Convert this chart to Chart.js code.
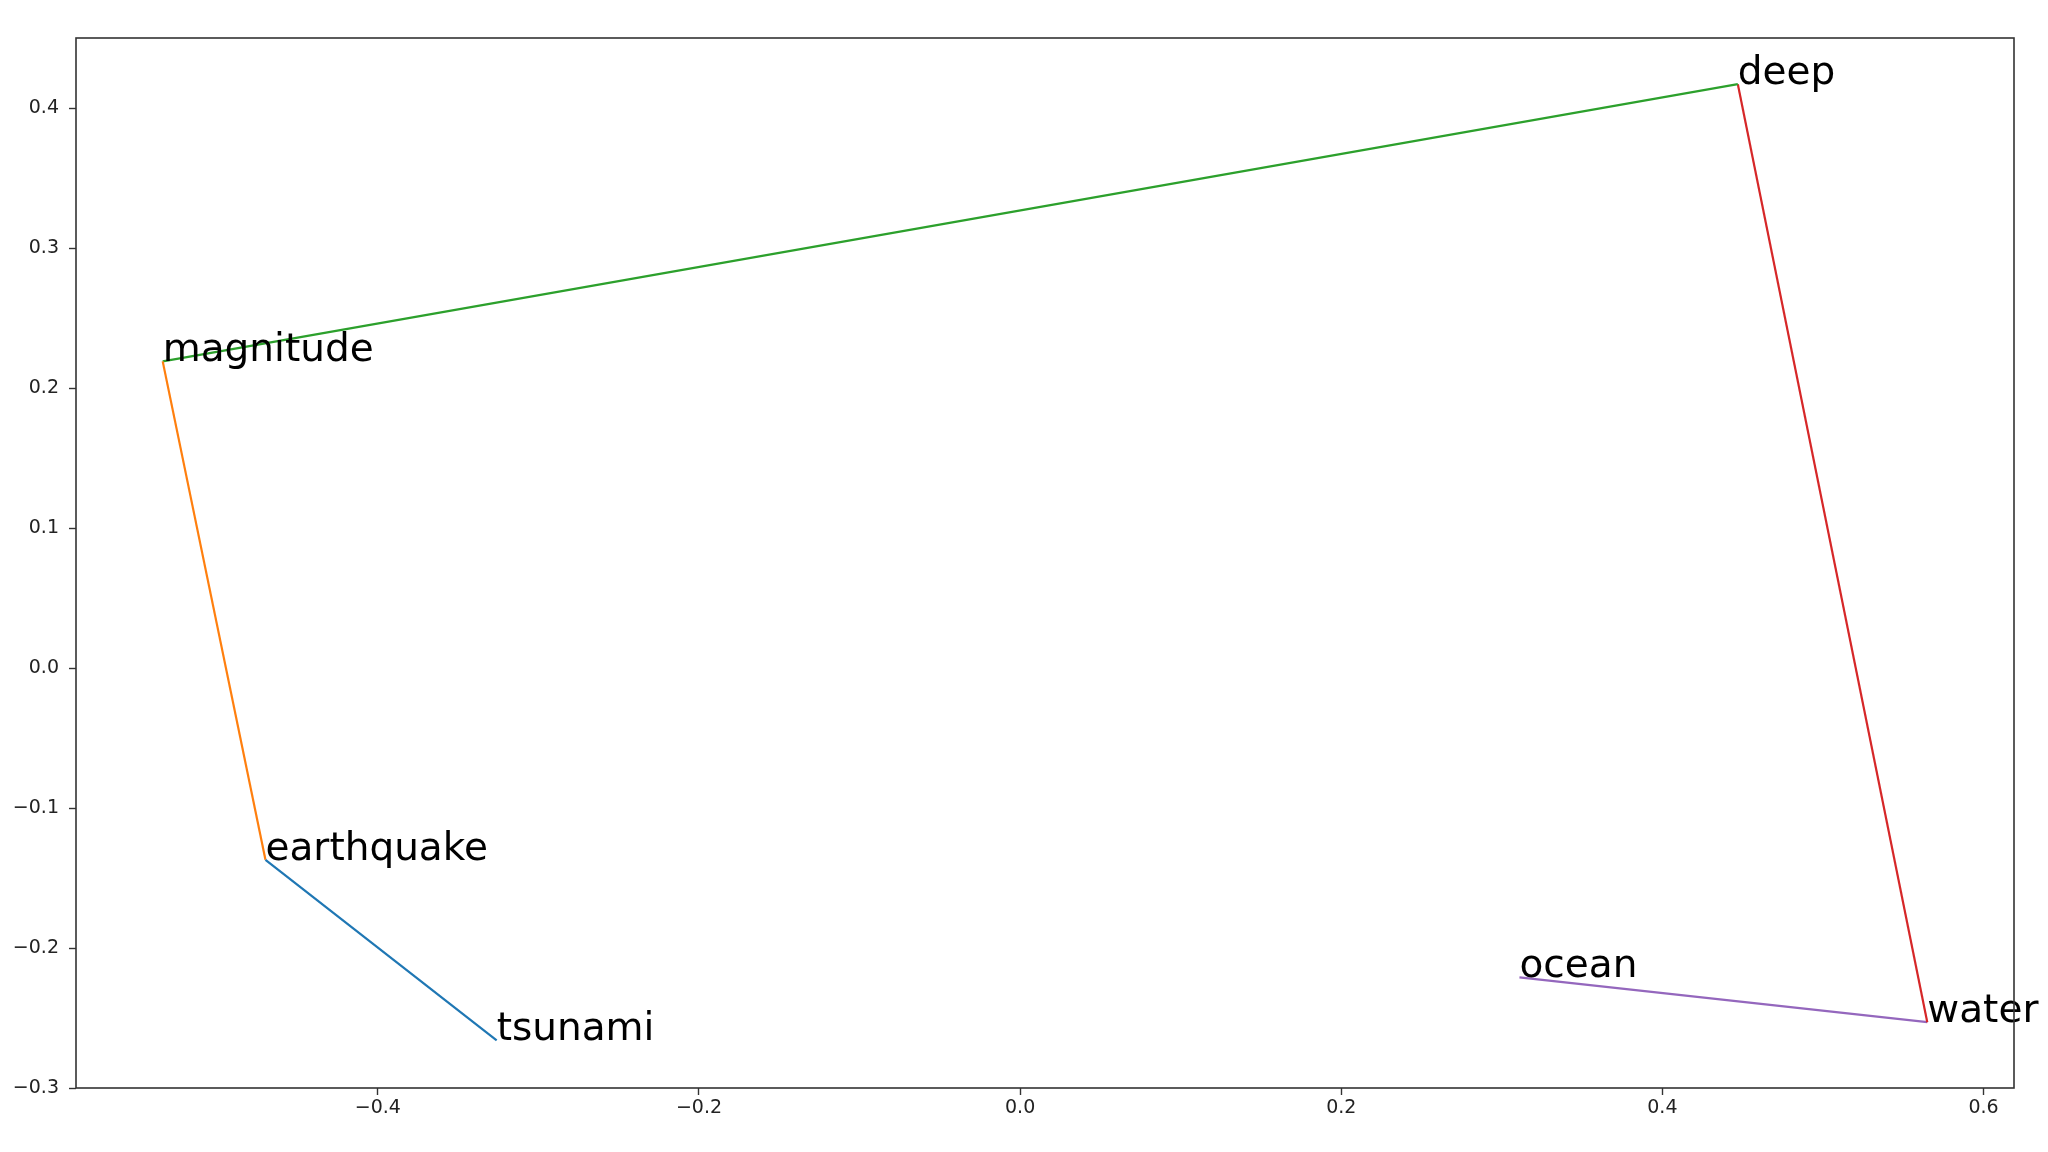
<!DOCTYPE html>
<html>
<head>
<meta charset="utf-8">
<script src="https://cdn.jsdelivr.net/npm/chart.js@4.4.1/dist/chart.umd.min.js"></script>
<style>
    html, body { margin: 0; padding: 0; background: #fff; }
    #wrap { width: 2048px; height: 1152px; }
</style>
</head>
<body>
<div id="wrap"><canvas id="chart" width="2048" height="1152"></canvas></div>
<script>
/* Word embedding path (2D projection) */

const words = ['tsunami', 'earthquake', 'magnitude', 'deep', 'water', 'ocean'];
const xs = [-0.326, -0.470, -0.534, 0.447, 0.565, 0.311];
const ys = [-0.266, -0.137, 0.219, 0.417, -0.253, -0.221];
const segColors = ['#1f77b4', '#ff7f0e', '#2ca02c', '#d62728', '#9467bd'];
const xTicks = [-0.4, -0.2, 0.0, 0.2, 0.4, 0.6];
const yTicks = [-0.3, -0.2, -0.1, 0.0, 0.1, 0.2, 0.3, 0.4];

const axisColor = '#333';
const tickFont = { family: 'DejaVu Sans', size: 19 };

// one line per consecutive pair of words
const datasets = segColors.map((color, i) => ({
    data: [
        { x: xs[i], y: ys[i] },
        { x: xs[i + 1], y: ys[i + 1] }
    ],
    borderColor: color,
    borderWidth: 2.2,
    pointRadius: 0,
    showLine: true,
    fill: false
}));

const fmt = v => v.toFixed(1).replace('-', '\u2212');

// matplotlib style box around the axes
const framePlugin = {
    id: 'frame',
    afterDraw(chart) {
        const { ctx, chartArea: a } = chart;
        ctx.save();
        ctx.strokeStyle = axisColor;
        ctx.lineWidth = 1.6;
        ctx.strokeRect(a.left, a.top, a.right - a.left, a.bottom - a.top);
        ctx.restore();
    }
};

// word labels, left/baseline anchored at each point
const wordLabels = {
    id: 'wordLabels',
    afterDatasetsDraw(chart) {
        const { ctx, scales } = chart;
        ctx.save();
        ctx.font = '39px "DejaVu Sans"';
        ctx.fillStyle = '#000';
        ctx.textAlign = 'left';
        ctx.textBaseline = 'alphabetic';
        words.forEach((w, i) => {
            ctx.fillText(w, scales.x.getPixelForValue(xs[i]), scales.y.getPixelForValue(ys[i]));
        });
        ctx.restore();
    }
};

new Chart(document.getElementById('chart'), {
    type: 'scatter',
    data: { datasets },
    options: {
        responsive: false,
        animation: false,
        layout: { padding: { top: 38, right: 34, left: 0, bottom: 0 } },
        plugins: {
            legend: { display: false },
            tooltip: { enabled: false }
        },
        scales: {
            x: {
                type: 'linear',
                min: -0.588,
                max: 0.619,
                afterBuildTicks: s => { s.ticks = xTicks.map(v => ({ value: v })); },
                afterFit: s => { s.height = 64; },
                ticks: { color: '#222', font: tickFont, padding: 2, callback: v => fmt(v) },
                grid: { drawOnChartArea: false, tickLength: 7, color: axisColor, tickWidth: 1.4 },
                border: { display: false }
            },
            y: {
                type: 'linear',
                min: -0.3,
                max: 0.45,
                afterBuildTicks: s => { s.ticks = yTicks.map(v => ({ value: v })); },
                afterFit: s => { s.width = 76; },
                ticks: { color: '#222', font: tickFont, padding: 10, callback: v => fmt(v) },
                grid: { drawOnChartArea: false, tickLength: 7, color: axisColor, tickWidth: 1.4 },
                border: { display: false }
            }
        }
    },
    plugins: [framePlugin, wordLabels]
});
</script>
</body>
</html>
